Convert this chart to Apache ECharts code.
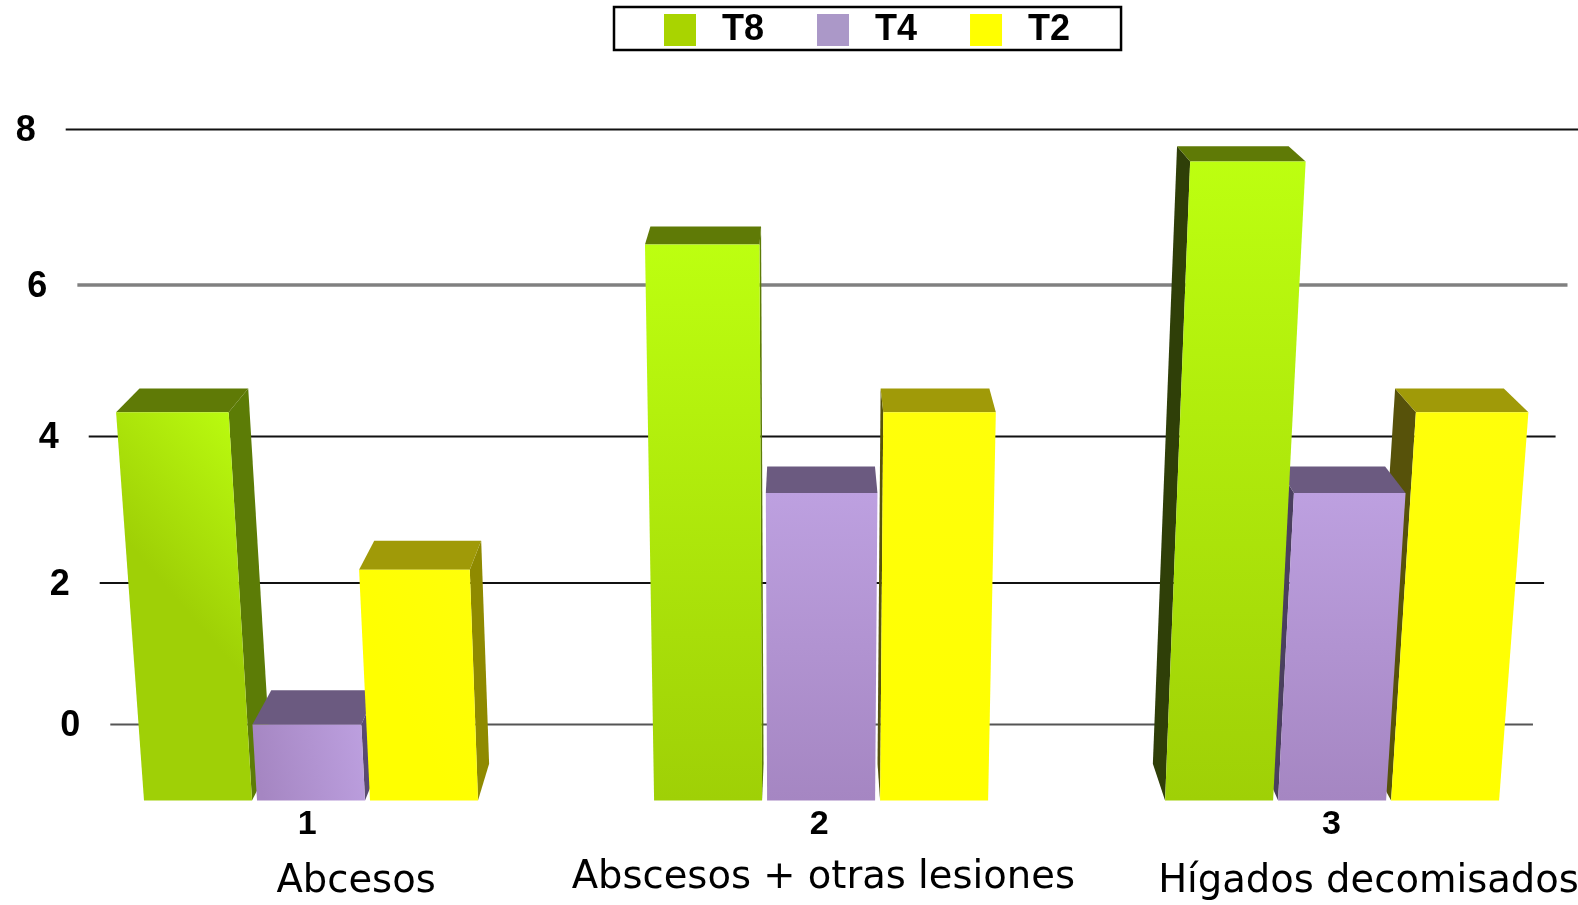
<!DOCTYPE html>
<html><head><meta charset="utf-8">
<style>html,body{margin:0;padding:0;background:#fff}#c{width:1578px;height:905px}</style>
<script src="https://cdn.jsdelivr.net/npm/echarts@6/dist/echarts.min.js"></script>
</head><body><div id="c"></div>
<script>
const categories = ['1', '2', '3'];
const groupNames = ['Abcesos', 'Abscesos + otras lesiones', 'Hígados decomisados'];
const t8 = [4.32, 6.52, 7.59];
const t4 = [0, 3.23, 3.23];
const t2 = [2.18, 4.32, 4.32];
const yTicks = [0, 2, 4, 6, 8];

const BOTTOM = 800.5, VPX = 805, VPY = -284, K = 1.088e-4, S = 0.034;
const warpFrom = [-1, 0, 2, 4, 6, 8], warpTo = [-1, 0.019, 1.917, 3.882, 5.914, 8];
function warp(v) {
  for (let i = 1; i < warpFrom.length; i++) {
    if (v <= warpFrom[i]) {
      const t = (v - warpFrom[i - 1]) / (warpFrom[i] - warpFrom[i - 1]);
      return warpTo[i - 1] + t * (warpTo[i] - warpTo[i - 1]);
    }
  }
  return v;
}
const px = (x, y) => [VPX + (x - VPX) * (1 + K * (BOTTOM - y)), y];
const back = p => [VPX + (p[0] - VPX) * (1 - S), VPY + (p[1] - VPY) * (1 - S)];

const looks = [
  {name: 'T8', off: -113, swatch: '#a9d400', hi: '#bdff10', lo: '#9fd006', top: '#5f7a06', right: '#5c7c06', left: '#2f3f08'},
  {name: 'T4', off: 0, swatch: '#ab98c8', hi: '#bda0e0', lo: '#a586c2', top: '#6b5a80', right: '#5a4a70', left: '#4a3f5e'},
  {name: 'T2', off: 113, swatch: '#ffff00', hi: '#ffff0a', lo: '#ffff00', top: '#a09a08', right: '#8f8a00', left: '#57520a'}
];
const groupShift = [3.9, 1.8, 0.6];

function frontFill(look, cat) {
  const stops = [{offset: 0, color: look.hi}, {offset: 1, color: look.lo}];
  return cat === 0
    ? new echarts.graphic.LinearGradient(1, 0, 0, 0.3, stops)
    : new echarts.graphic.LinearGradient(0, 0, 0, 1, stops);
}

function barRender(look) {
  return function (params, api) {
    const cat = api.value(0);
    const top = api.coord([cat, warp(api.value(1))])[1];
    const cx = api.coord([cat, 0])[0] + groupShift[cat] + look.off;
    const x0 = cx - 54, x1 = cx + 54;
    const tl = px(x0, top), tr = px(x1, top), bl = px(x0, BOTTOM), br = px(x1, BOTTOM);
    const z = 1000 - Math.round(Math.abs(cx - VPX));
    const poly = (points, fill) => ({type: 'polygon', shape: {points}, style: {fill}, z2: z});
    const children = [];
    if (x1 < VPX) children.push(poly([tr, back(tr), back(br), br], look.right));
    if (x0 > VPX) children.push(poly([tl, back(tl), back(bl), bl], look.left));
    children.push(poly([tl, back(tl), back(tr), tr], look.top));
    children.push(poly([tl, tr, br, bl], frontFill(look, cat)));
    return {type: 'group', children};
  };
}

function gridRender(params, api) {
  const v = api.value(1);
  const y = api.coord([0, warp(v)])[1];
  const a = px(116, y), b = px(1527, y);
  const grey = v === 6, mid = v === 0;
  return {type: 'group', children: [
    {type: 'line', shape: {x1: a[0], y1: y, x2: b[0], y2: y},
     style: {stroke: grey ? '#808080' : mid ? '#555555' : '#111111', lineWidth: grey ? 3.5 : 2}, z2: 0},
    {type: 'text', style: {text: String(v), x: a[0] - 40, y: y + 2, fill: '#000', fontFamily: 'Liberation Sans', fontWeight: 'bold', fontSize: 36, align: 'center', verticalAlign: 'middle'}, z2: 0}
  ]};
}

const nameOffsets = [49, 4, 37], nameY = [882, 878, 882];
function nameRender(params, api) {
  const i = api.value(0);
  return {type: 'text', style: {text: groupNames[i], x: api.coord([i, 0])[0] + nameOffsets[i], y: nameY[i], fill: '#000',
    fontFamily: 'DejaVu Sans', fontSize: 38.5, align: 'center', verticalAlign: 'middle'}};
}

const chart = echarts.init(document.getElementById('c'), null, {renderer: 'canvas'});
chart.setOption({
  animation: false,
  backgroundColor: '#ffffff',
  legend: {
    data: looks.map(l => l.name), left: 614, top: 7, icon: 'rect', orient: 'horizontal',
    itemWidth: 32, itemHeight: 32, itemGap: 53,
    padding: [5, 51, 2, 50], borderColor: '#000', borderWidth: 2.5, backgroundColor: '#fff',
    selectedMode: false,
    textStyle: {fontFamily: 'Liberation Sans', fontWeight: 'bold', fontSize: 36, color: '#000', padding: [0, 0, 0, 21]}
  },
  grid: {left: 51, width: 1536.6, top: 129.5, height: 671, outerBoundsMode: 'none'},
  xAxis: {type: 'category', data: categories, axisLine: {show: false}, axisTick: {show: false}, splitLine: {show: false},
    axisLabel: {margin: 7, fontFamily: 'Liberation Sans', fontWeight: 'bold', fontSize: 34, color: '#000'}},
  yAxis: {type: 'value', min: -1, max: 8, interval: 1, show: false, splitLine: {show: false}},
  series: [
    {type: 'custom', name: 'grid', silent: true, clip: false, z: 1, renderItem: gridRender, data: yTicks.map(v => [0, v])},
    {type: 'custom', name: 'names', silent: true, clip: false, z: 5, renderItem: nameRender, data: groupNames.map((_, i) => [i, 0])},
    ...[t8, t4, t2].map((vals, s) => ({
      type: 'custom', name: looks[s].name, clip: false, z: 3, silent: true,
      itemStyle: {color: looks[s].swatch},
      renderItem: barRender(looks[s]),
      data: vals.map((v, i) => [i, v])
    }))
  ]
});
</script></body></html>
